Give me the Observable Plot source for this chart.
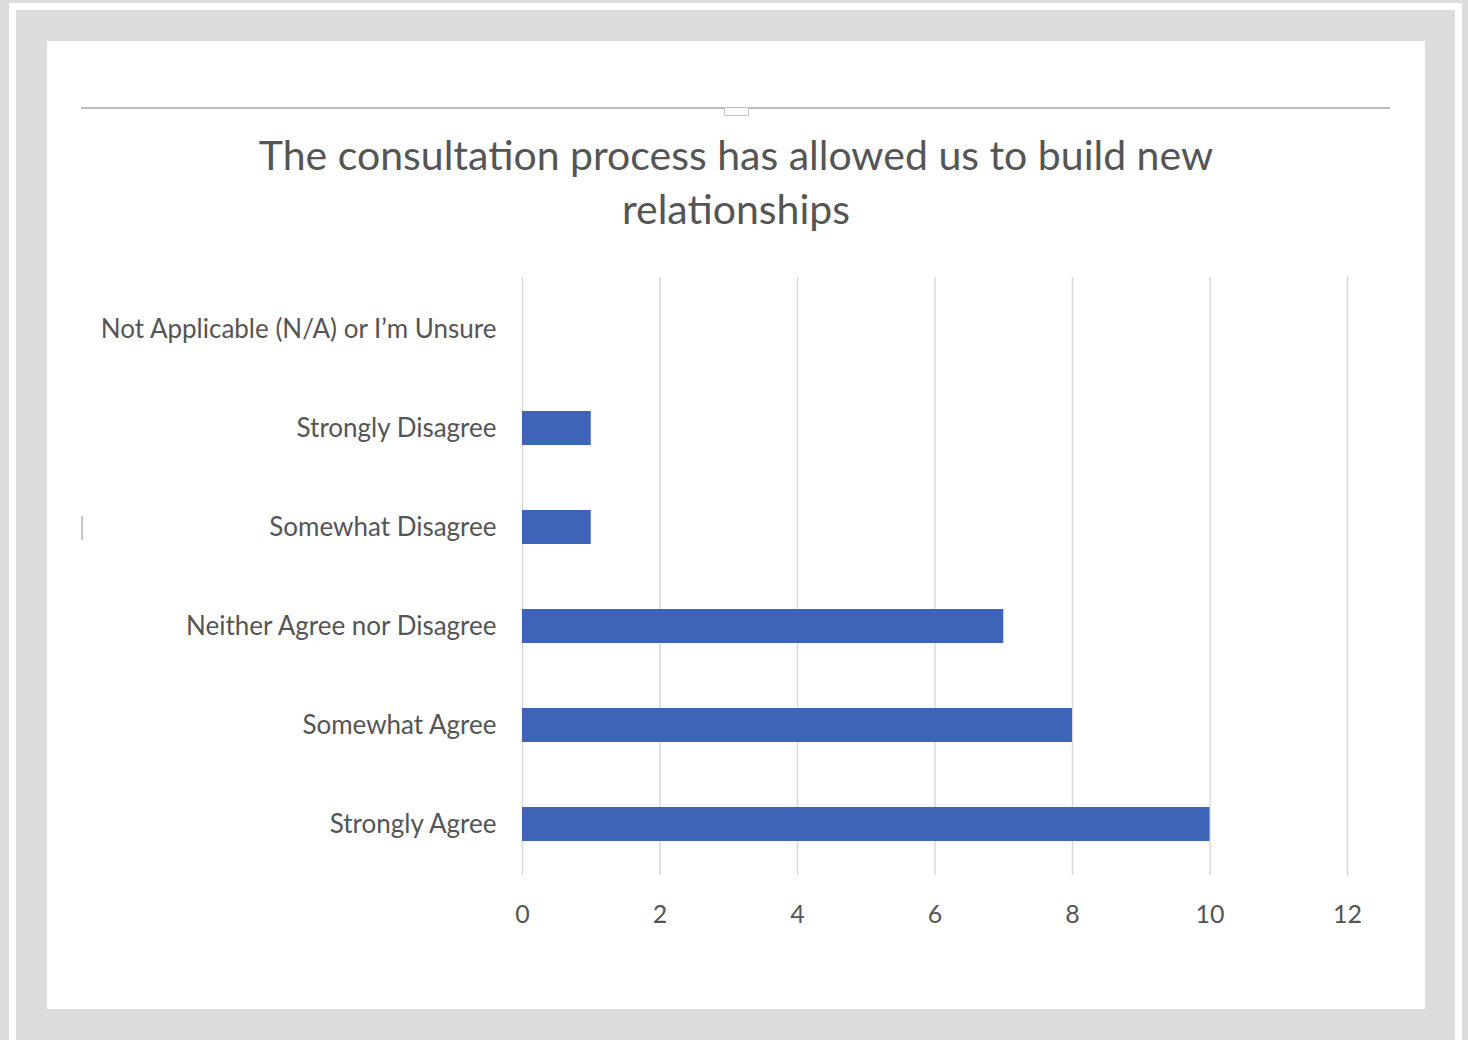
<!DOCTYPE html>
<html>
<head>
<meta charset="utf-8">
<script src="https://cdn.jsdelivr.net/npm/d3@7"></script>
<script src="https://cdn.jsdelivr.net/npm/@observablehq/plot@0.6"></script>
<style>
  html, body { margin: 0; padding: 0; }
  body { width: 1468px; height: 1040px; background: #dcdcdc; position: relative; overflow: hidden; font-family: Lato, "Open Sans", sans-serif; }
  #frame { position: absolute; left: 9px; top: 3px; width: 1439px; height: 1035px; border: 7px solid #ffffff; border-bottom: none; box-sizing: content-box; }
  #panel { position: absolute; left: 47px; top: 41px; width: 1378px; height: 968px; background: #ffffff; }
  #topline { position: absolute; left: 81px; top: 107px; width: 1309px; height: 0; border-top: 2px solid #bdbdbd; }
  #handle { position: absolute; left: 724px; top: 108px; width: 23px; height: 7px; border: 1.5px solid #c4c4c4; border-top: none; background: #fff; }
  #lhandle { position: absolute; left: 81px; top: 516px; width: 2px; height: 24px; background: #c8c8c8; }
  #title { position: absolute; left: 47px; width: 1378px; top: 128px; text-align: center; color: #555555; font-size: 41px; line-height: 54px; font-family: Lato, sans-serif; }
  #chart { position: absolute; left: 81px; top: 250px; }
</style>
</head>
<body>
<div id="frame"></div>
<div id="panel"></div>
<div id="topline"></div>
<div id="handle"></div>
<div id="lhandle"></div>
<div id="title">The consultation process has allowed us to build new<br>relationships</div>
<div id="chart"></div>
<script>
const categories = [
  "Not Applicable (N/A) or I’m Unsure",
  "Strongly Disagree",
  "Somewhat Disagree",
  "Neither Agree nor Disagree",
  "Somewhat Agree",
  "Strongly Agree"
];
const values = [0, 1, 1, 7, 8, 10];
const xTicks = [0, 2, 4, 6, 8, 10, 12];

const data = categories.map((c, i) => ({category: c, value: values[i]}));

const chart = Plot.plot({
  width: 1309,
  height: 700,
  marginLeft: 441,
  marginRight: 43,
  marginTop: 27,
  marginBottom: 75,
  style: {fontFamily: "Lato, sans-serif", color: "#555555", background: "transparent"},
  x: {domain: [0, 12], ticks: xTicks},
  y: {domain: categories, paddingInner: 0.66, paddingOuter: 0.33},
  marks: [
    Plot.gridX(xTicks, {stroke: "#d9d9d9", strokeOpacity: 1, strokeWidth: 1.5}),
    Plot.barX(data, {x: "value", y: "category", fill: "#3d64b7"}),
    Plot.axisX({ticks: xTicks, tickSize: 0, tickPadding: 30, fontSize: 25, label: null, fill: "#555555"}),
    Plot.axisY({tickSize: 0, tickPadding: 26, fontSize: 26, label: null, fill: "#555555"})
  ]
});
document.getElementById("chart").appendChild(chart);
</script>
</body>
</html>
